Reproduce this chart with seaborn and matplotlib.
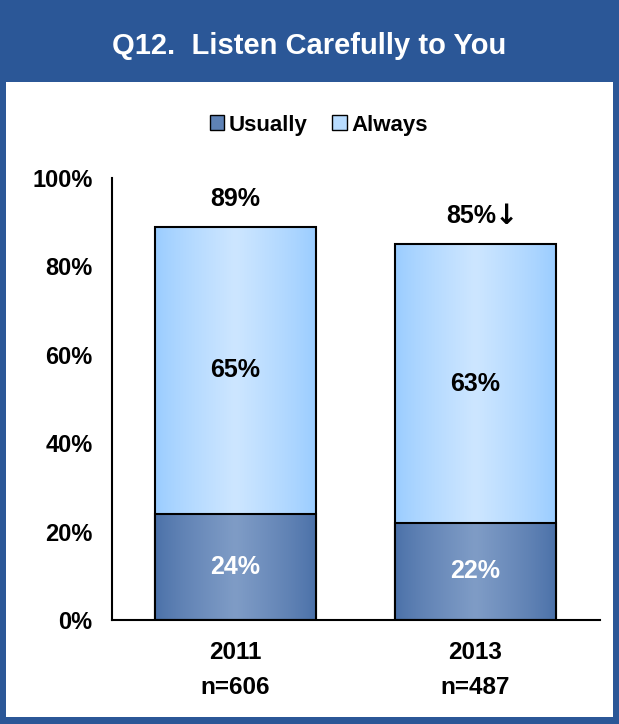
import numpy as np
import matplotlib.pyplot as plt
import pandas as pd
import seaborn as sns
from matplotlib.patches import Rectangle
from matplotlib.colors import LinearSegmentedColormap

# values
years = ['2011\nn=606', '2013\nn=487']
usually = [24, 22]
always = [65, 63]
totals = [89, 85]
total_labels = ['89%', '85%']
down_arrow = [False, True]
series = ['Usually', 'Always']

frame_blue = '#2B5797'
usually_edge, usually_mid = '#4A70A8', '#7F9CC6'
always_edge, always_mid = '#99CCFF', '#CDE6FF'

sns.set_theme(style='white')
plt.rcParams['font.family'] = ['Liberation Sans', 'DejaVu Sans']
plt.rcParams['font.weight'] = 'bold'
plt.rcParams['text.color'] = 'black'

W, H = 619, 724
fig = plt.figure(figsize=(W / 100, H / 100), dpi=100)
fig.patch.set_facecolor(frame_blue)
# white inner panel
fig.patches.append(Rectangle((6 / W, 7 / H), 607 / W, 635 / H, transform=fig.transFigure,
                             facecolor='white', edgecolor='none', zorder=-10))
fig.text(0.5, 1 - 46 / H, 'Q12.  Listen Carefully to You', color='white',
         fontsize=21, fontweight='bold', ha='center', va='center')

ax = fig.add_axes([112 / W, 1 - 620 / H, 488 / W, 442 / H])
ax.set_facecolor('none')

df = pd.DataFrame({'year': years, 'total': totals, 'usually': usually})
sns.barplot(data=df, x='year', y='total', color=always_edge, width=0.67,
            edgecolor='black', linewidth=1.5, ax=ax, saturation=1)
sns.barplot(data=df, x='year', y='usually', color=usually_edge, width=0.67,
            edgecolor='black', linewidth=1.5, ax=ax, saturation=1)

# horizontal gradient fill clipped to each bar
prof = np.linspace(0, 1, 256)
prof = 1 - np.abs(prof - 0.5) * 2
prof = prof ** 0.8
grad = prof[np.newaxis, :]
cm_usually = LinearSegmentedColormap.from_list('u', [usually_edge, usually_mid])
cm_always = LinearSegmentedColormap.from_list('a', [always_edge, always_mid])
n = len(years)
for k, p in enumerate(list(ax.patches)):
    cmap = cm_always if k < n else cm_usually
    x0, y0 = p.get_x(), p.get_y()
    w, h = p.get_width(), p.get_height()
    im = ax.imshow(grad, cmap=cmap, extent=(x0, x0 + w, y0, y0 + h), aspect='auto',
                   zorder=2 + (0 if k < n else 1), interpolation='bilinear')
    im.set_clip_path(p)
    p.set_facecolor('none')
    p.set_zorder(2.5 + (0 if k < n else 1))
ax.set_xlim(-0.515, 1.52)
ax.set_ylim(0, 100)

for i in range(n):
    ax.text(i, usually[i] / 2, f'{usually[i]}%', color='white', ha='center', va='center',
            fontsize=18, fontweight='bold', zorder=5)
    ax.text(i, usually[i] + always[i] / 2, f'{always[i]}%', color='black', ha='center',
            va='center', fontsize=18, fontweight='bold', zorder=5)
    if down_arrow[i]:
        ax.text(i - 0.017, totals[i] + 6.4, total_labels[i], color='black', ha='center',
                va='center', fontsize=18, fontweight='bold', zorder=5)
        ax.text(i + 0.128, totals[i] + 6.4, '\u2193', color='black', ha='center',
                va='center', fontsize=20, fontweight='bold', family='DejaVu Sans', zorder=5)
    else:
        ax.text(i, totals[i] + 6.2, total_labels[i], color='black', ha='center',
                va='center', fontsize=18, fontweight='bold', zorder=5)

for s in ['top', 'right']:
    ax.spines[s].set_visible(False)
for s in ['left', 'bottom']:
    ax.spines[s].set_color('black')
    ax.spines[s].set_linewidth(1.5)
    ax.spines[s].set_zorder(6)

ax.set_yticks(range(0, 101, 20))
ax.set_yticklabels([f'{v}%' for v in range(0, 101, 20)], fontsize=17, fontweight='bold')
ax.tick_params(axis='y', length=0, pad=14, colors='black')
ax.tick_params(axis='x', length=0, pad=15, colors='black')
for t in ax.get_xticklabels():
    t.set_fontsize(17.5)
    t.set_fontweight('bold')
    t.set_linespacing(1.7)
ax.set_xlabel('')
ax.set_ylabel('')
ax.grid(False)

handles = [Rectangle((0, 0), 1, 1, facecolor=c, edgecolor='black', linewidth=1)
           for c in ['#5E82B6', '#B8DCFF']]
fig.legend(handles, series, loc='center', bbox_to_anchor=(0.515, 1 - 125 / H), ncol=2,
           frameon=False, handlelength=0.65, handleheight=0.65,
           handletextpad=0.2, columnspacing=1.1, prop={'weight': 'bold', 'size': 16})

fig.savefig('out.png', dpi=100, facecolor=fig.get_facecolor())
